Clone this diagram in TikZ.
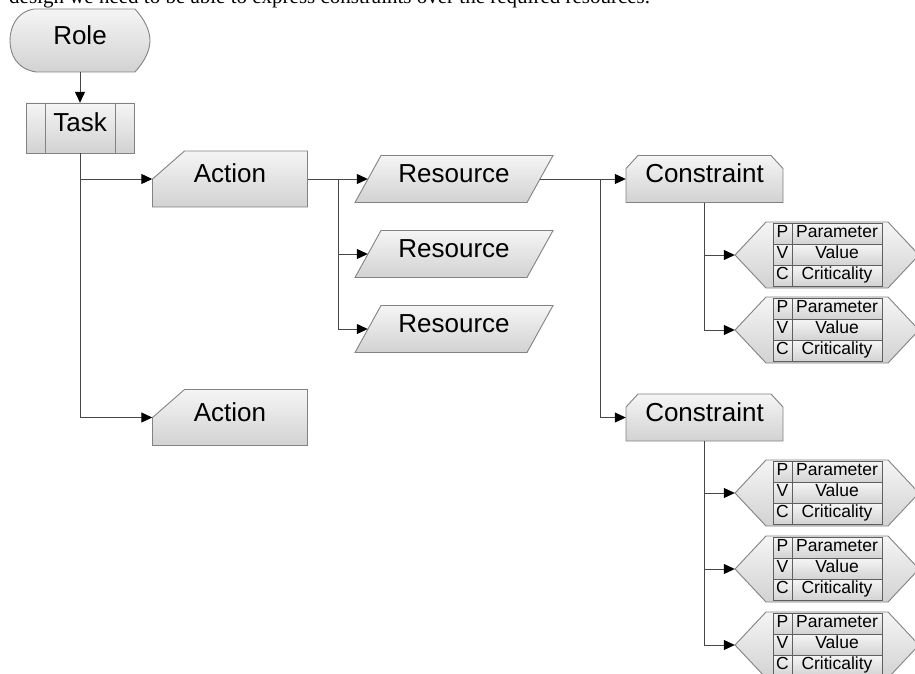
\documentclass[tikz,border=0pt]{standalone}
\usepackage{fontspec}
\setmainfont{Liberation Sans}
\newfontfamily\introfont{Liberation Serif}
\usepackage{tikz}
\usetikzlibrary{arrows.meta}
\definecolor{boxline}{RGB}{130,130,130}
\definecolor{boxtop}{RGB}{245,245,245}
\definecolor{boxbottom}{RGB}{210,210,210}
\definecolor{linegray}{RGB}{70,70,70}
\definecolor{cellline}{RGB}{95,95,95}
\tikzstyle{box}=[draw=boxline, line width=0.9pt, top color=boxtop, bottom color=boxbottom]
\tikzstyle{cell}=[draw=cellline, line width=0.8pt, top color=boxtop, bottom color=boxbottom]
\tikzstyle{lbl}=[inner sep=0pt, text height=0.72em, text depth=0pt, font=\fontsize{26}{30}\selectfont]
\tikzstyle{small}=[inner sep=0pt, text height=0.72em, text depth=0pt, font=\fontsize{17.5}{20}\selectfont]
\newcommand{\actionbox}[3]{%
    \begin{scope}[shift={(#2,#3)}]
        \shadedraw[box] (-77.5,0) -- (-45.5,-28) -- (77.5,-28) -- (77.5,28) -- (-77.5,28) -- cycle;
        \node[lbl, minimum width=155pt, minimum height=56pt] (#1) at (0,0) {Action};
    \end{scope}
}
\newcommand{\resourcebox}[3]{%
    \begin{scope}[shift={(#2,#3)}]
        \shadedraw[box] (-99,23.5) -- (-73,-23.5) -- (99,-23.5) -- (73,23.5) -- cycle;
        \node[lbl, minimum width=172pt, minimum height=47pt] (#1) at (0,0) {Resource};
    \end{scope}
}
\newcommand{\constraintbox}[3]{%
    \begin{scope}[shift={(#2,#3)}]
        \shadedraw[box] (-78.5,23.5) -- (-78.5,-10.5) -- (-66.5,-23.5) -- (66.5,-23.5)
            -- (78.5,-10.5) -- (78.5,23.5) -- cycle;
        \node[lbl, minimum width=157pt, minimum height=47pt] (#1) at (0,0) {Constraint};
    \end{scope}
}
\newcommand{\paramblock}[3]{%
    \begin{scope}[shift={(#2,#3)}]
        \shadedraw[box] (-92,0) -- (-61,-33) -- (61,-33) -- (92,0) -- (61,33) -- (-61,33) -- cycle;
        \foreach \r/\k/\t in {-31.5/P/Parameter, -10.5/V/Value, 10.5/C/Criticality} {
            \shadedraw[cell] (-54,\r) rectangle (55,\r+21);
            \draw[cellline, line width=0.8pt] (-35,\r) -- (-35,\r+21);
            \node[small] (#1-\k) at (-44.5,\r+10.5) {\k};
            \node[small] (#1-\k-text) at (10,\r+10.5) {\t};
        }
        \node[minimum width=184pt, minimum height=66pt, inner sep=0pt] (#1) at (0,0) {};
    \end{scope}
}

\begin{document}
\begin{tikzpicture}[x=1pt, y=-1pt,
            every edge/.style={draw=linegray, line width=1pt,
                -{Triangle[length=11pt,width=10pt,color=black]}},
            elbow/.style={to path={|- (\tikztotarget)}}
        ]
            \useasboundingbox (0,0) rectangle (915,674);
            \clip (0,0) rectangle (915,674);

            \node[anchor=base west, inner sep=0pt, font=\introfont\fontsize{21}{24}\selectfont] (intro) at (9,4)
                {design we need to be able to express constraints over the required resources.};

            \shadedraw[box] (34,9) .. controls (16,12) and (10,28) .. (10,40.5)
                .. controls (10,55) and (17,69) .. (36,72) -- (135,72)
                .. controls (145,61) and (150,50) .. (150,40.5)
                .. controls (150,31) and (145,20) .. (135,9) -- cycle;
            \node[lbl, minimum width=140pt, minimum height=63pt] (role) at (80,40.5) {Role};

            \shadedraw[box] (26,103) rectangle (134,153);
            \draw[boxline, line width=0.9pt] (45,103) -- (45,153) (115,103) -- (115,153);
            \node[lbl, minimum width=108pt, minimum height=50pt] (task) at (80,128) {Task};

            \actionbox{act1}{230}{179}
            \actionbox{act2}{230}{417.5}
            \resourcebox{res1}{454}{179}
            \resourcebox{res2}{454}{254}
            \resourcebox{res3}{454}{329}
            \constraintbox{con1}{704.5}{179}
            \constraintbox{con2}{704.5}{417.5}
            \paramblock{par1}{827}{255}
            \paramblock{par2}{827}{330}
            \paramblock{par3}{827}{493}
            \paramblock{par4}{827}{569}
            \paramblock{par5}{827}{645}

            \coordinate (j1) at (338,179);
            \coordinate (j2) at (600,179);
        \path
                (role) edge (task)
                (task.south) edge[elbow] (act1.west)
                (task.south) edge[elbow] (act2.west)
                (act1.east) edge (res1.west)
                (j1) edge[elbow] (res2.west)
                (j1) edge[elbow] (res3.west)
                (res1.east) edge (con1.west)
                (j2) edge[elbow] (con2.west)
                (con1.south) edge[elbow] (par1.west)
                (con1.south) edge[elbow] (par2.west)
                (con2.south) edge[elbow] (par3.west)
                (con2.south) edge[elbow] (par4.west)
                (con2.south) edge[elbow] (par5.west)
            ;
        \end{tikzpicture}
\end{document}
